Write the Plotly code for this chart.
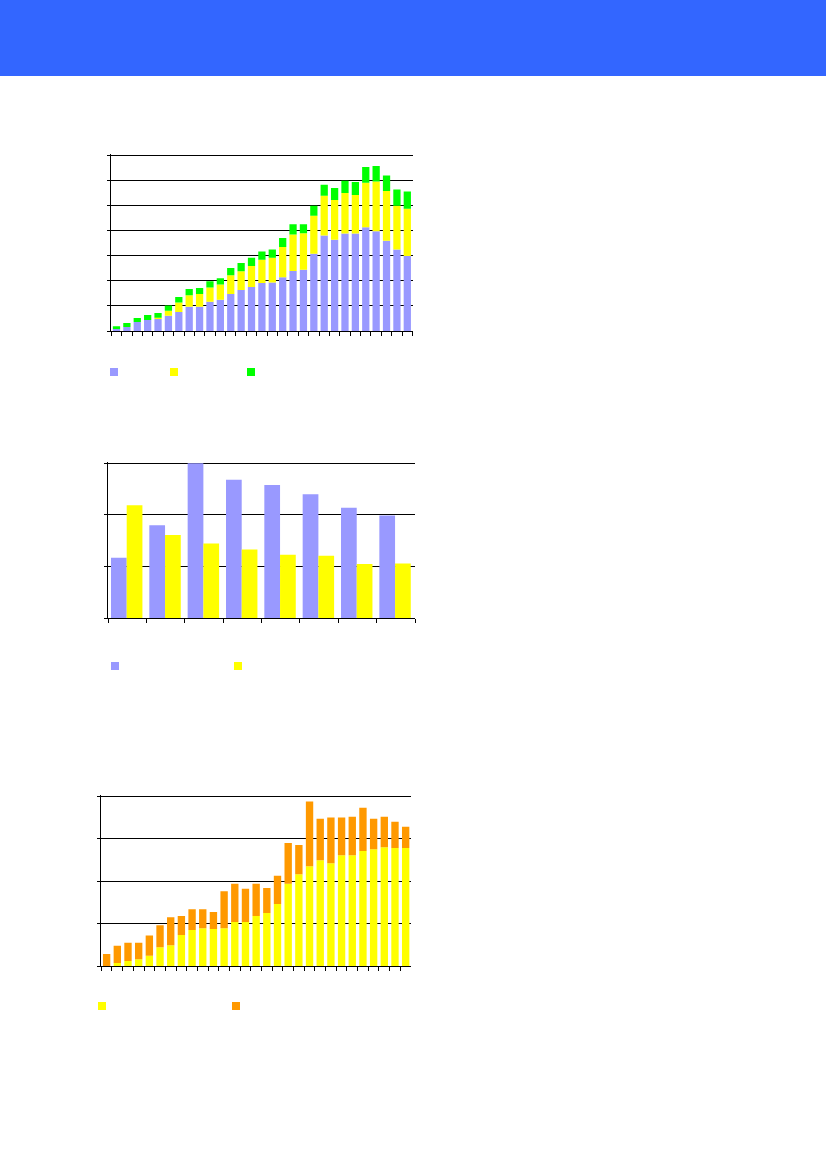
import numpy as np
import plotly.graph_objects as go

W, H = 826, 1169

# ---------------- data ----------------
cats1 = [str(i) for i in range(1, 30)]
c1_blue = [0.08, 0.16, 0.36, 0.44, 0.48, 0.61, 0.76, 0.97, 0.97, 1.17, 1.25, 1.47, 1.63, 1.75, 1.91,
           1.93, 2.14, 2.39, 2.44, 3.08, 3.80, 3.64, 3.88, 3.88, 4.13, 3.97, 3.60, 3.25, 2.99]
c1_yellow = [0.0, 0.0, 0.0, 0.0, 0.05, 0.20, 0.38, 0.45, 0.50, 0.56, 0.60, 0.75, 0.75, 0.84, 0.93,
             0.99, 1.21, 1.45, 1.45, 1.51, 1.59, 1.58, 1.62, 1.54, 1.78, 1.99, 1.98, 1.74, 1.88]
c1_green = [0.11, 0.16, 0.16, 0.20, 0.19, 0.21, 0.21, 0.25, 0.24, 0.25, 0.25, 0.29, 0.33, 0.33, 0.33,
            0.33, 0.36, 0.41, 0.36, 0.40, 0.44, 0.48, 0.49, 0.52, 0.62, 0.61, 0.62, 0.65, 0.69]

cats2 = [str(i) for i in range(1, 9)]
c2_blue = [1.17, 1.80, 3.00, 2.68, 2.58, 2.40, 2.14, 1.99]
c2_yellow = [2.19, 1.61, 1.45, 1.33, 1.23, 1.21, 1.05, 1.06]

cats3 = [str(i) for i in range(1, 30)]
c3_yellow = [0.0, 0.07, 0.12, 0.16, 0.24, 0.44, 0.49, 0.73, 0.85, 0.89, 0.87, 0.89, 1.04, 1.04, 1.18,
             1.25, 1.46, 1.94, 2.16, 2.35, 2.49, 2.42, 2.61, 2.61, 2.71, 2.75, 2.80, 2.78, 2.78]
c3_orange = [0.28, 0.41, 0.43, 0.39, 0.48, 0.52, 0.66, 0.45, 0.49, 0.45, 0.40, 0.87, 0.90, 0.78, 0.76,
             0.59, 0.67, 0.96, 0.69, 1.53, 0.98, 1.08, 0.89, 0.91, 1.02, 0.72, 0.72, 0.62, 0.50]

y1_max, y2_max, y3_max = 7, 3, 4

BLUE, YELLOW, GREEN, ORANGE = "#9999FF", "#FFFF00", "#00FF00", "#FF9900"
HEADER = "#3366FF"


def xd(a, b):
    return [a / W, b / W]


def yd(top, bottom):
    return [1 - bottom / H, 1 - top / H]


EXTRA_PX = 1.5  # tiny headroom so the top gridline is drawn


def headroom(vmax, top, bottom):
    per_px = vmax / (bottom - top)
    return [0, vmax + EXTRA_PX * per_px], yd(top - EXTRA_PX, bottom)


fig = go.Figure()

# chart 1: stacked
b1 = np.array(c1_blue)
y1 = np.array(c1_yellow)
fig.add_bar(x=cats1, y=c1_blue, base=0, marker_color=BLUE, xaxis="x", yaxis="y", width=0.7)
fig.add_bar(x=cats1, y=c1_yellow, base=b1, marker_color=YELLOW, xaxis="x", yaxis="y", width=0.7)
fig.add_bar(x=cats1, y=c1_green, base=b1 + y1, marker_color=GREEN, xaxis="x", yaxis="y", width=0.7)

# chart 2: grouped
fig.add_bar(x=cats2, y=c2_blue, marker_color=BLUE, xaxis="x2", yaxis="y2", width=0.41, offset=-0.43)
fig.add_bar(x=cats2, y=c2_yellow, marker_color=YELLOW, xaxis="x2", yaxis="y2", width=0.41, offset=-0.02)

# chart 3: stacked
y3 = np.array(c3_yellow)
fig.add_bar(x=cats3, y=c3_yellow, base=0, marker_color=YELLOW, xaxis="x3", yaxis="y3", width=0.69)
fig.add_bar(x=cats3, y=c3_orange, base=y3, marker_color=ORANGE, xaxis="x3", yaxis="y3", width=0.69)

fig.update_traces(marker_line_width=0, showlegend=False, hoverinfo="skip")

xcommon = dict(type="category", showticklabels=False, showgrid=False, zeroline=False,
               showline=True, linecolor="black", linewidth=1, ticks="outside",
               tickson="boundaries", ticklen=4, tickcolor="black", tickwidth=1,
               dtick=1, tick0=0, fixedrange=True)
ycommon = dict(showticklabels=False, showgrid=True, gridcolor="black", gridwidth=1, zeroline=False,
               showline=True, linecolor="black", linewidth=1, ticks="outside", ticklen=3,
               tickcolor="black", tickwidth=1, dtick=1, tick0=0, fixedrange=True)

shapes = [dict(type="rect", xref="paper", yref="paper", x0=0, x1=1, y0=1 - 76 / H, y1=1,
               fillcolor=HEADER, line_width=0, layer="below")]


def legend_square(x, y, color):
    return dict(type="rect", xref="paper", yref="paper", x0=x / W, x1=(x + 8) / W,
                y0=1 - (y + 8) / H, y1=1 - y / H, fillcolor=color, line_width=0)


shapes += [legend_square(110, 368, BLUE), legend_square(170, 368, YELLOW), legend_square(247, 368, GREEN),
           legend_square(111, 662, BLUE), legend_square(234, 662, YELLOW),
           legend_square(98, 1002, YELLOW), legend_square(232, 1002, ORANGE)]

r1, d1 = headroom(y1_max, 155.3, 331)
r2, d2 = headroom(y2_max, 463.3, 618.3)
r3, d3 = headroom(y3_max, 796.3, 966)

fig.update_layout(
    width=W, height=H, margin=dict(l=0, r=0, t=0, b=0),
    paper_bgcolor="white", plot_bgcolor="white",
    barmode="overlay", showlegend=False,
    xaxis=dict(xcommon, domain=xd(111.3, 412.5), anchor="y"),
    yaxis=dict(ycommon, domain=d1, range=r1, anchor="x"),
    xaxis2=dict(xcommon, domain=xd(108.3, 415), anchor="y2"),
    yaxis2=dict(ycommon, domain=d2, range=r2, anchor="x2"),
    xaxis3=dict(xcommon, domain=xd(101.3, 411), anchor="y3"),
    yaxis3=dict(ycommon, domain=d3, range=r3, anchor="x3"),
    shapes=shapes,
    font=dict(family="Liberation Sans"),
)

fig.write_html("out.html", config={"displayModeBar": False, "staticPlot": True},
               post_script="document.body.style.margin='0px';document.body.style.padding='0px';")
